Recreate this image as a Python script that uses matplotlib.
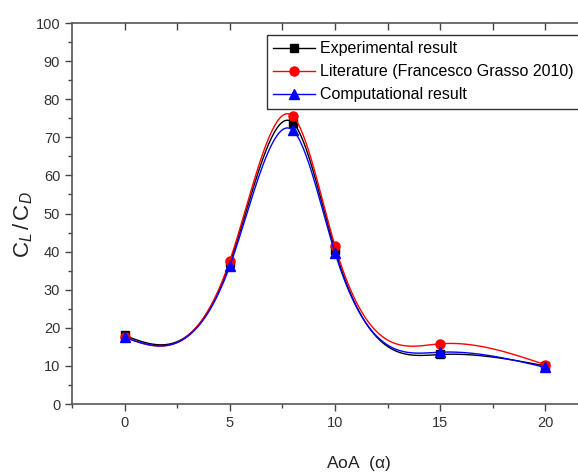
import matplotlib
matplotlib.use("Agg")
import matplotlib.pyplot as plt
import numpy as np

plt.rcParams['font.family'] = ['Liberation Sans', 'DejaVu Sans']
plt.rcParams['mathtext.fontset'] = 'custom'
plt.rcParams['mathtext.rm'] = 'Liberation Sans'
plt.rcParams['mathtext.it'] = 'Liberation Sans:italic'

aoa = [0, 5, 8, 10, 15, 20]
experimental = [18.0, 37.0, 73.8, 40.5, 13.0, 10.0]
literature = [17.5, 37.6, 75.5, 41.5, 15.8, 10.3]
computational = [17.5, 36.2, 71.8, 39.7, 13.6, 9.6]


def natural_spline(x, y, n=300):
    x = np.asarray(x, float)
    y = np.asarray(y, float)
    k = len(x)
    h = np.diff(x)
    A = np.zeros((k, k))
    b = np.zeros(k)
    A[0, 0] = A[-1, -1] = 1
    for i in range(1, k - 1):
        A[i, i - 1] = h[i - 1]
        A[i, i] = 2 * (h[i - 1] + h[i])
        A[i, i + 1] = h[i]
        b[i] = 6 * ((y[i + 1] - y[i]) / h[i] - (y[i] - y[i - 1]) / h[i - 1])
    m = np.linalg.solve(A, b)
    xs = np.linspace(x[0], x[-1], n)
    idx = np.clip(np.searchsorted(x, xs) - 1, 0, k - 2)
    x0, x1 = x[idx], x[idx + 1]
    hh = x1 - x0
    t0, t1 = x1 - xs, xs - x0
    ys = (m[idx] * t0 ** 3 + m[idx + 1] * t1 ** 3) / (6 * hh) \
        + (y[idx] / hh - m[idx] * hh / 6) * t0 \
        + (y[idx + 1] / hh - m[idx + 1] * hh / 6) * t1
    return xs, ys


fig = plt.figure(figsize=(5.78, 4.74), dpi=100)
ax = fig.add_axes([72 / 578, 70 / 474, 526 / 578, 381 / 474])

series = [
    (experimental, 'black', 's', 5.5, 'Experimental result'),
    (literature, 'red', 'o', 6.5, 'Literature (Francesco Grasso 2010)'),
    (computational, 'blue', '^', 7, 'Computational result'),
]
for vals, col, mk, ms, lab in series:
    xs, ys = natural_spline(aoa, vals)
    ax.plot(xs, ys, color=col, lw=1.0)
    ax.plot(aoa, vals, ls='none', marker=mk, color=col, ms=ms)
    ax.plot([], [], color=col, lw=1.0, marker=mk, ms=ms, label=lab)

ax.set_xlim(-2.5, 22.5)
ax.set_ylim(0, 100)
ax.set_xticks([0, 5, 10, 15, 20])
ax.set_xticks(np.arange(-2.5, 22.6, 2.5), minor=True)
ax.set_yticks(np.arange(0, 101, 10))
ax.set_yticks(np.arange(0, 101, 5), minor=True)
ax.tick_params(axis='both', which='major', direction='out', length=5, width=1,
               labelsize=10.5, labelcolor='#333333', color='#444444')
ax.tick_params(axis='both', which='minor', direction='out', length=3, width=1,
               color='#444444')
for sp in ax.spines.values():
    sp.set_linewidth(1.2)
    sp.set_color('#555555')

# top axis: inward ticks every 2.5, no labels
ax_top = ax.twiny()
ax_top.set_xlim(ax.get_xlim())
ax_top.set_xticks(np.arange(0, 22.6, 2.5))
ax_top.tick_params(axis='x', direction='in', length=5, width=1,
                   labeltop=False, color='#444444')
for sp in ax_top.spines.values():
    sp.set_visible(False)

ax.set_ylabel(r'$\mathrm{C}_{\mathit{L}}\,/\,\mathrm{C}_{\mathit{D}}$', fontsize=16, color='#222222')
ax.yaxis.set_label_coords(-0.07, 0.47)
ax.set_xlabel(r'AoA  ($\mathrm{\alpha}$)', fontsize=12.5, color='#222222')
ax.xaxis.set_label_coords(0.544, -0.13)

leg = ax.legend(loc='upper left', bbox_to_anchor=(195 / 526, (404 - 35) / 381),
                fontsize=11.5, frameon=True, fancybox=False, handlelength=2.6,
                borderpad=0.4, labelspacing=0.5, handletextpad=0.3,
                borderaxespad=0)
leg.get_frame().set_edgecolor('#333333')
leg.get_frame().set_linewidth(1.0)
leg.get_frame().set_alpha(1)

fig.savefig('out.png', dpi=100)
